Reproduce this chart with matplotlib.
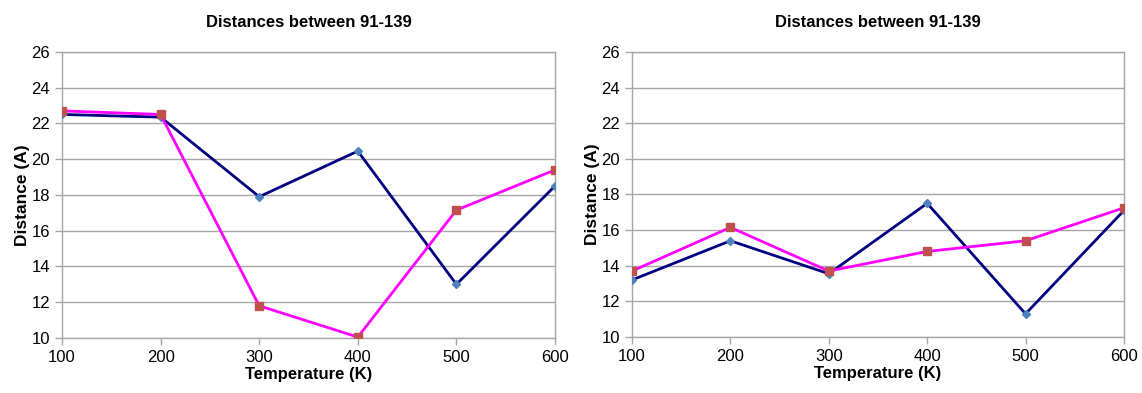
import matplotlib
matplotlib.use("Agg")
import matplotlib.pyplot as plt

temps = [100, 200, 300, 400, 500, 600]

left_blue = [22.5, 22.35, 17.9, 20.45, 13.0, 18.5]
left_pink = [22.7, 22.5, 11.8, 10.05, 17.15, 19.4]

right_blue = [13.2, 15.4, 13.55, 17.5, 11.3, 17.1]
right_pink = [13.7, 16.15, 13.7, 14.8, 15.4, 17.25]

plt.rcParams["font.family"] = ["Liberation Sans", "DejaVu Sans"]

fig = plt.figure(figsize=(11.42, 3.93), dpi=100)
fig.patch.set_facecolor("white")

ax_left = fig.add_axes([0.0543, 0.140, 0.4317, 0.728])
ax_right = fig.add_axes([0.5534, 0.1425, 0.4308, 0.7255])

GRID = "#a6a6a6"

for ax, blue, pink in [(ax_left, left_blue, left_pink),
                       (ax_right, right_blue, right_pink)]:
    ax.plot(temps, blue, color="#000080", linewidth=2,
            marker="D", markersize=4, markerfacecolor="#4f81bd",
            markeredgecolor="#4f81bd", zorder=3)
    ax.plot(temps, pink, color="#ff00ff", linewidth=2,
            marker="s", markersize=6, markerfacecolor="#c0504d",
            markeredgecolor="#c0504d", zorder=4)

    ax.set_xlim(100, 600)
    ax.set_ylim(10, 26)
    ax.set_xticks(temps)
    ax.set_yticks(range(10, 27, 2))
    ax.tick_params(axis="both", labelsize=12, color=GRID, length=5,
                   width=1, direction="out")
    ax.tick_params(axis="x", pad=4)
    ax.grid(axis="y", color=GRID, linewidth=1)
    ax.set_axisbelow(True)
    for side in ["left", "bottom", "right", "top"]:
        ax.spines[side].set_color(GRID)
        ax.spines[side].set_linewidth(1)

    ax.set_title("Distances between 91-139", fontsize=12,
                 fontweight="bold", pad=18)
    ax.set_xlabel("Temperature (K)", fontsize=12, fontweight="bold",
                  labelpad=1)
    ax.set_ylabel("Distance (A)", fontsize=12.5, fontweight="bold",
                  labelpad=1)

fig.savefig("out.png", dpi=100, facecolor="white")
